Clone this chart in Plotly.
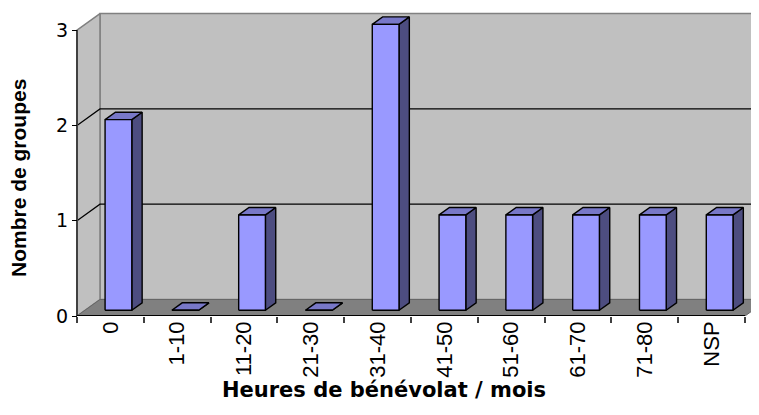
import plotly.graph_objects as go

# ---- data ----
categories = ["0", "1-10", "11-20", "21-30", "31-40", "41-50", "51-60", "61-70", "71-80", "NSP"]
values = [2, 0, 1, 0, 3, 1, 1, 1, 1, 1]
y_ticks = [0, 1, 2, 3]
x_title = "Heures de bénévolat / mois"
y_title = "Nombre de groupes"

# ---- pseudo-3D geometry (in data units) ----
DX = 0.344      # depth offset along category axis
DY = 0.173      # depth offset along value axis
F0, F1 = 0.35, 0.80   # bar depth span (fraction of full depth)
W = 0.40        # bar width (category units)
n = len(categories)
xl, xr = -0.5, n - 0.5
ymax = max(y_ticks)

FRONT = "#9999FF"
TOP = "#7878C8"
SIDE = "#4D4D80"
WALL = "#C0C0C0"
FLOOR = "#808080"
EDGE = "#808080"

fig = go.Figure()

def poly(xs, ys, fill, line, lw=1.5):
    fig.add_trace(go.Scatter(x=xs, y=ys, mode="lines", fill="toself", fillcolor=fill,
                             line=dict(color=line, width=lw), hoverinfo="skip", showlegend=False))

def seg(xs, ys, color, lw=1.2):
    fig.add_trace(go.Scatter(x=xs, y=ys, mode="lines", line=dict(color=color, width=lw),
                             hoverinfo="skip", showlegend=False))

# back wall
poly([xl + DX, xr + DX, xr + DX, xl + DX, xl + DX], [DY, DY, ymax + DY, ymax + DY, DY], WALL, EDGE)
# side wall
poly([xl, xl + DX, xl + DX, xl, xl], [0, DY, ymax + DY, ymax, 0], WALL, EDGE)
# floor
poly([xl, xr, xr + DX, xl + DX, xl], [0, 0, DY, DY, 0], FLOOR, "#666666", 1)

# gridlines (back wall + side wall)
gx, gy = [], []
for v in y_ticks[1:-1]:
    gx += [xl, xl + DX, xr + DX, None]
    gy += [v, v + DY, v + DY, None]
seg(gx, gy, "#000000", 1.2)

# bars
fx, fy, tx, ty, sx, sy = [], [], [], [], [], []
ddx, ddy = (F1 - F0) * DX, (F1 - F0) * DY
for i, v in enumerate(values):
    x0 = i + F0 * DX - W / 2
    x1 = x0 + W
    y0 = F0 * DY
    sx += [x1, x1 + ddx, x1 + ddx, x1, x1, None]
    sy += [y0, y0 + ddy, y0 + v + ddy, y0 + v, y0, None]
    tx += [x0, x1, x1 + ddx, x0 + ddx, x0, None]
    ty += [y0 + v, y0 + v, y0 + v + ddy, y0 + v + ddy, y0 + v, None]
    fx += [x0, x1, x1, x0, x0, None]
    fy += [y0, y0, y0 + v, y0 + v, y0, None]
poly(sx, sy, SIDE, "#000000", 1.4)
poly(tx, ty, TOP, "#000000", 1.4)
poly(fx, fy, FRONT, "#000000", 1.4)

# axis lines
seg([xl, xl], [0, ymax], "#404040", 2)
seg([xl, xr], [0, 0], "#000000", 2)

# ---- layout (page body adds an 8px offset; target screen positions minus OFF) ----
OFF = 8
AX_X = 77 - OFF      # front y-axis x position in figure px
AX_Y = 316 - OFF     # front baseline y position in figure px
ML, MT = AX_X - 5, 0
MB = 415 - AX_Y
PW = 759 - ML
PH = 415 - MT - MB
px_per_cat = 66.8
px_per_val = 95.3
x_lo = xl - (AX_X - ML) / px_per_cat
x_hi = x_lo + PW / px_per_cat
y_hi = PH / px_per_val

def px(x):
    return (x - OFF - ML) / PW

def py(y):
    return (AX_Y - (y - OFF)) / PH

fig.update_layout(
    template="none",
    width=759, height=415,
    margin=dict(l=ML, r=0, t=MT, b=MB, pad=0, autoexpand=False),
    paper_bgcolor="white", plot_bgcolor="white",
    showlegend=False,
    xaxis=dict(range=[x_lo, x_hi], showgrid=False, zeroline=False, showline=False,
               automargin=False,
               tickmode="array", tickvals=list(range(n)), ticktext=categories,
               ticks="", tickangle=-90,
               tickfont=dict(family="Liberation Sans, Arial", size=22, color="#000000"),
               minor=dict(tickmode="array", tickvals=[k - 0.5 for k in range(n + 1)],
                          ticks="outside", ticklen=6, tickwidth=1.5, tickcolor="#404040",
                          showgrid=False)),
    yaxis=dict(range=[0, y_hi], showgrid=False, zeroline=False, showline=False,
               automargin=False,
               anchor="free", position=(AX_X - ML) / PW,
               tickmode="array", tickvals=y_ticks, ticktext=[str(t) for t in y_ticks],
               ticks="outside", ticklen=5, tickwidth=1.2, tickcolor="#000000",
               tickfont=dict(family="DejaVu Sans", size=19, color="#000000")),
    annotations=[
        dict(text="<b>" + x_title + "</b>", xref="paper", yref="paper",
             x=px(384), y=py(390), xanchor="center", yanchor="middle",
             showarrow=False, font=dict(family="DejaVu Sans", size=21, color="#000000")),
        dict(text="<b>" + y_title + "</b>", xref="paper", yref="paper",
             x=px(18), y=py(178), xanchor="center", yanchor="middle",
             textangle=-90, showarrow=False,
             font=dict(family="Liberation Sans, Arial", size=21, color="#000000")),
    ],
)

fig.write_html("out.html")
